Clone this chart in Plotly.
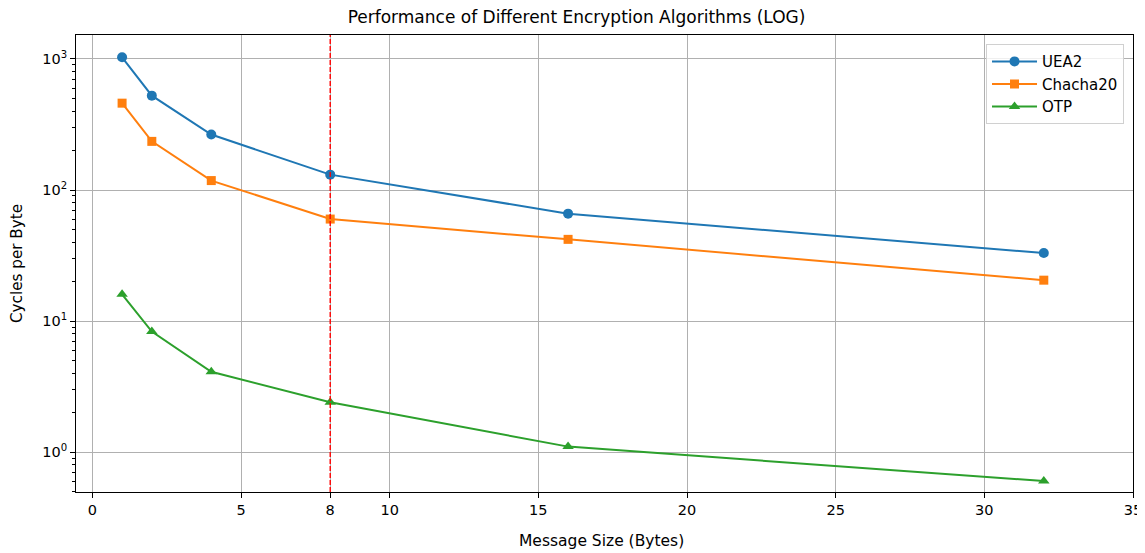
import plotly.graph_objects as go

message_sizes = [1, 2, 4, 8, 16, 32]
uea2 = [1030, 525, 265, 131, 66, 33]
chacha20 = [460, 235, 118, 60, 42, 20.5]
otp = [16, 8.3, 4.1, 2.4, 1.1, 0.6]

x_ticks = [0, 5, 8, 10, 15, 20, 25, 30, 35]
y_ticks = [1, 10, 100, 1000]
y_ticktext = ["10<sup>0</sup>", "10<sup>1</sup>", "10<sup>2</sup>", "10<sup>3</sup>"]
highlight_x = 8

font = "DejaVu Sans"
fig = go.Figure()
series = [
    ("UEA2", uea2, "#1f77b4", "circle", 10),
    ("Chacha20", chacha20, "#ff7f0e", "square", 9),
    ("OTP", otp, "#2ca02c", "triangle-up", 10),
]
for name, ys, color, sym, ms in series:
    fig.add_trace(go.Scatter(
        x=message_sizes, y=ys, name=name, mode="lines+markers",
        line=dict(color=color, width=2),
        marker=dict(color=color, symbol=sym, size=ms),
    ))

fig.add_shape(type="line", xref="x", yref="paper", x0=highlight_x, x1=highlight_x,
              y0=0, y1=1, line=dict(color="red", width=1.4, dash="5px,2px"))

fig.add_annotation(text="Message Size (Bytes)", xref="paper", yref="paper",
                   x=0.4967, y=-0.1072, xanchor="center", yanchor="middle",
                   showarrow=False, font=dict(size=15.5, family=font, color="black"))

# page body has an 8px margin, so the figure is sized/offset to compensate
fig.update_layout(
    width=1137, height=545,
    margin=dict(l=68, r=12, t=27, b=61, autoexpand=False),
    paper_bgcolor="white", plot_bgcolor="white",
    font=dict(family=font, size=14.5, color="black"),
    title=dict(text="Performance of Different Encryption Algorithms (LOG)",
               x=0.4735, xanchor="center", xref="paper", y=0.9835, yanchor="middle",
               font=dict(size=17, family=font, color="black")),
    legend=dict(x=0.9915, y=0.98, xanchor="right", yanchor="top",
                bordercolor="#d0d0d0", borderwidth=1, bgcolor="rgba(255,255,255,0.8)",
                font=dict(size=15, family=font), itemwidth=45, tracegroupgap=3),
    showlegend=True,
)
fig.update_xaxes(
    range=[-0.55, 35], tickvals=x_ticks, ticktext=[str(v) for v in x_ticks],
    showgrid=True, gridcolor="#b0b0b0", gridwidth=0.8,
    showline=True, linecolor="black", linewidth=1, mirror=True,
    ticks="outside", ticklen=5, tickcolor="black", tickfont=dict(size=14.5),
    zeroline=False, automargin=False,
)
fig.update_yaxes(
    type="log", range=[-0.305, 3.183], tickvals=y_ticks, ticktext=y_ticktext,
    showgrid=True, gridcolor="#b0b0b0", gridwidth=0.8,
    showline=True, linecolor="black", linewidth=1, mirror=True,
    ticks="outside", ticklen=5, tickcolor="black", tickfont=dict(size=14.5),
    minor=dict(ticks="outside", ticklen=3, tickcolor="black", showgrid=False, dtick="D1"),
    zeroline=False, automargin=False,
    title=dict(text="Cycles per Byte", font=dict(size=15.2, family=font), standoff=24),
)

fig.write_html("out.html")
